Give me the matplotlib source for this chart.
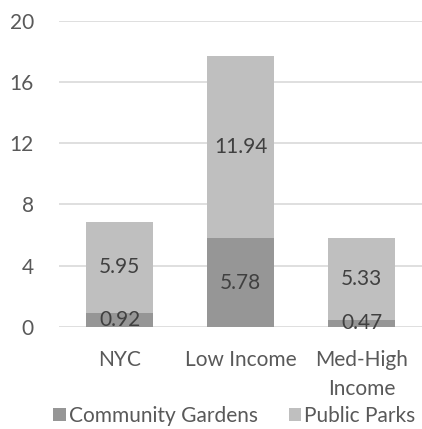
import matplotlib
matplotlib.use("Agg")
import matplotlib.pyplot as plt
import numpy as np

plt.rcParams['font.family'] = ['Lato', 'DejaVu Sans']

# share of area per group
categories = ['NYC', 'Low Income', 'Med-High\nIncome']
gardens = [0.92, 5.78, 0.47]
parks = [5.95, 11.94, 5.33]
yticks = [0, 4, 8, 12, 16, 20]

c_gardens = '#969696'
c_parks = '#bfbfbf'
c_text = '#404040'
c_tick = '#595959'
fs = 15

fig = plt.figure(figsize=(4.22, 4.29), dpi=100)
ax = fig.add_axes([59/422, 1 - 326.7/429, 1 - 59/422, (326.7 - 21)/429])

x = np.arange(len(categories))
w = 0.56
b1 = ax.bar(x, gardens, w, color=c_gardens, label='Community Gardens', zorder=3)
b2 = ax.bar(x, parks, w, bottom=gardens, color=c_parks, label='Public Parks', zorder=3)

for bars, vals in ((b1, gardens), (b2, parks)):
    for rect, v in zip(bars, vals):
        ax.text(rect.get_x() + rect.get_width()/2, rect.get_y() + rect.get_height()/2,
                '%.2f' % v, ha='center', va='center', fontsize=fs, color=c_text, zorder=4)

ax.set_xlim(-0.5, 2.5)
ax.set_ylim(0, 20)
ax.set_yticks(yticks)
ax.set_xticks(x)
ax.set_xticklabels(categories, linespacing=1.55)
ax.yaxis.grid(True, color='#d9d9d9', linewidth=1.2, zorder=0)
for s in ax.spines.values():
    s.set_visible(False)
ax.tick_params(length=0, labelsize=fs, colors=c_tick)
ax.tick_params(axis='y', pad=18)
ax.tick_params(axis='x', pad=17)

fig.legend(loc='center left', bbox_to_anchor=(53/422, 1 - 416/429), ncol=2, frameon=False,
           fontsize=fs, labelcolor=c_tick, handlelength=0.6, handleheight=0.6,
           handletextpad=0.15, columnspacing=1.5, borderaxespad=0, borderpad=0)

fig.savefig('out.png', dpi=100)
